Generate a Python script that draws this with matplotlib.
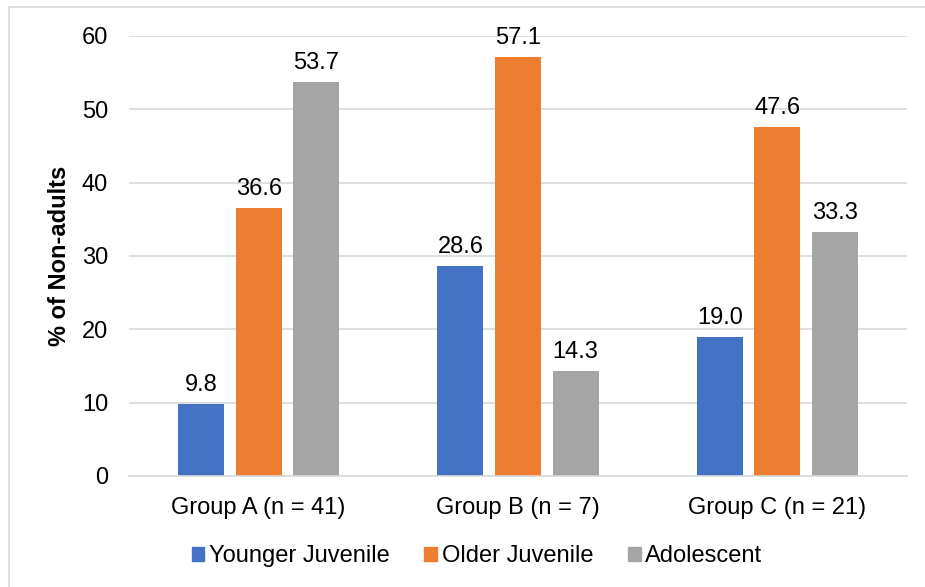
import matplotlib.pyplot as plt
import numpy as np
from matplotlib.lines import Line2D

groups = ["Group A (n = 41)", "Group B (n = 7)", "Group C (n = 21)"]
series = ["Younger Juvenile", "Older Juvenile", "Adolescent"]
younger = [9.8, 28.6, 19.0]
older = [36.6, 57.1, 47.6]
adolescent = [53.7, 14.3, 33.3]
colors = ["#4472C4", "#ED7D31", "#A5A5A5"]

plt.rcParams['font.family'] = ['Liberation Sans', 'DejaVu Sans']

fig = plt.figure(figsize=(9.25, 5.87), dpi=100)
ax = fig.add_axes([129 / 925, 1 - 476 / 587, (907 - 129) / 925, (476 - 36) / 587])

x = np.arange(len(groups))
width = 0.177
step = 0.222
for i, (name, vals) in enumerate(zip(series, [younger, older, adolescent])):
    pos = x + (i - 1) * step
    ax.bar(pos, vals, width, color=colors[i], label=name, zorder=2)
    for p, v in zip(pos, vals):
        ax.text(p, v + 2.6, f"{v:.1f}", ha="center", va="center", fontsize=17)

ax.set_xlim(-0.5, 2.5)
ax.set_ylim(0, 60)
ax.set_yticks(range(0, 61, 10))
ax.set_xticks(x)
ax.set_xticklabels(groups, fontsize=17)
ax.tick_params(axis="y", labelsize=17, length=0, pad=15)
ax.tick_params(axis="x", length=0, pad=15)
ax.grid(axis="y", color="#D9D9D9", linewidth=1.2, zorder=0)
for s in ["top", "right", "left"]:
    ax.spines[s].set_visible(False)
ax.spines["bottom"].set_color("#D9D9D9")
ax.spines["bottom"].set_linewidth(1.2)
ax.set_ylabel("% of Non-adults", fontsize=17, fontweight="bold", labelpad=8)

handles = [plt.Rectangle((0, 0), 1, 1, color=c) for c in colors]
fig.legend(handles, series, loc="center", bbox_to_anchor=(477 / 925, 1 - 556 / 587),
           ncol=3, frameon=False, fontsize=17, handlelength=0.55, handleheight=0.55,
           handletextpad=0.2, columnspacing=1.45, borderpad=0)

# chart border (left and top visible)
fig.add_artist(Line2D([9 / 925, 9 / 925], [0, 1 - 7 / 587], transform=fig.transFigure,
                      color="#D9D9D9", linewidth=1.2))
fig.add_artist(Line2D([9 / 925, 1], [1 - 7 / 587, 1 - 7 / 587], transform=fig.transFigure,
                      color="#D9D9D9", linewidth=1.2))

fig.savefig("out.png", dpi=100)
